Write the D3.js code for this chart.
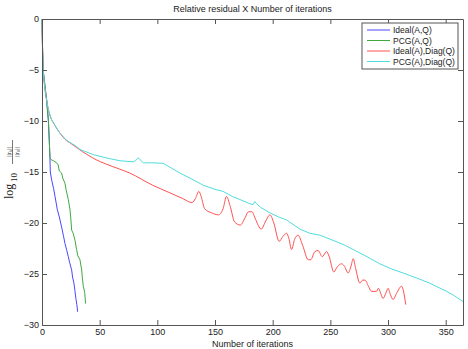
<!DOCTYPE html>
<html>
<head>
<meta charset="utf-8">
<script src="https://cdn.jsdelivr.net/npm/d3@7"></script>
<style>
body { margin: 0; background: #fff; }
svg { display: block; }
</style>
</head>
<body>
<div id="chart"></div>
<script>
var width = 468, height = 349;
var margin = {top: 19, right: 5, bottom: 24, left: 42};

var xTicks = [0, 50, 100, 150, 200, 250, 300, 350];
var yTicks = [0, -5, -10, -15, -20, -25, -30];
var seriesNames = ['Ideal(A,Q)', 'PCG(A,Q)', 'Ideal(A),Diag(Q)', 'PCG(A),Diag(Q)'];
var seriesColors = ['#4848ff', '#40a840', '#ff5050', '#50dcdc'];

// [iteration, log10 residual]
var idealAQ = [[0,0],[0.5,-3],[1,-5],[2,-6],[3,-7],[4,-7.9],[5,-9.3],[5.5,-9.9],[6.3,-11.9],[6.9,-13.6],
    [7.2,-15],[8.4,-15.8],[10,-16.6],[11.3,-17.4],[13.3,-18.7],[15,-19.4],[17,-20.4],[18.5,-21.2],
    [19.9,-22],[21.5,-22.7],[22.8,-23.3],[24,-23.9],[25.7,-24.6],[26.5,-25.3],[27.7,-25.9],
    [28.5,-26.6],[29.5,-27.5],[30.2,-28],[30.9,-28.7]];
var pcgAQ = [[0,0],[0.5,-3],[1,-5],[2,-6],[3,-7],[4,-7.9],[5,-9.3],[5.5,-9.9],[6.3,-11.9],[6.9,-13.6],
    [8,-13.8],[10,-13.9],[12.7,-14.1],[14,-14.3],[15,-14.9],[17,-15.1],[18,-15.6],[19.9,-16.1],
    [21,-16.8],[22.8,-17.7],[24.3,-18.7],[25,-19.6],[25.7,-20.7],[27,-21],[28.6,-21.7],[30,-22.6],
    [31,-23.2],[32.9,-23.6],[34.4,-24.6],[35,-25.4],[35.8,-26.2],[37,-26.8],[37.8,-27.9]];
var idealDiag = [[0,0],[0.5,-3],[1,-5],[2,-6.3],[3,-7.2],[5,-8.6],[7,-9.5],[10,-10.2],[15,-11.1],
    [20,-11.8],[25,-12.2],[30,-12.6],[35,-13],[40,-13.35],[47,-13.8],[55,-14.2],[67,-14.7],[76,-15.1],
    [96,-16.3],[110,-17],[122,-17.6],[130,-18],[133,-17.6],[136,-16.9],[138,-17.4],[141,-18.6],
    [147,-19],[153,-19.2],[157,-18.6],[160,-17.4],[163,-18.3],[167,-19.9],[172,-20.2],[176,-19.5],
    [179,-18.9],[182,-18.9],[185,-19.6],[190,-20.6],[194,-19.8],[197.6,-19.2],[201,-20],[205.6,-21.8],
    [209,-21.3],[212,-21],[214,-21.5],[216.4,-22.6],[219,-21.6],[222,-21.2],[226,-22.2],[230.8,-23.6],
    [233,-23.6],[236.6,-22.8],[239.4,-22.7],[243,-23.3],[246.7,-22.8],[249,-23.3],[253,-24.8],
    [256,-24.3],[259.7,-24],[262,-24.2],[265.5,-24.9],[268,-24.2],[269.8,-23.5],[272,-24.5],
    [275.6,-25.9],[278,-25.6],[280,-25.6],[283,-26.2],[285.7,-26.7],[290,-26.7],[291.5,-26.4],
    [295.8,-27.4],[298,-26.9],[300.1,-26.4],[302,-27],[304.4,-27.5],[307.4,-26.9],[311.7,-26.2],
    [315.4,-28]];
var pcgDiag = [[0,0],[0.5,-3],[1,-5],[2,-6.3],[3,-7.3],[5.5,-8.9],[8.4,-9.9],[10,-10.2],[15.6,-11.2],
    [21.4,-11.9],[30,-12.5],[33,-12.8],[44.5,-13.3],[59,-13.7],[67.6,-13.9],[79,-14],[81,-13.9],
    [83.5,-13.6],[85,-13.8],[87.8,-14.1],[95,-14.1],[105,-14.15],[112,-14.6],[119.6,-15.1],
    [130,-15.7],[139.8,-16.3],[150,-16.7],[157,-16.9],[165,-17.4],[171.6,-17.7],[180,-18.1],
    [183,-18.2],[184.5,-17.9],[186,-18.1],[190,-18.5],[197.6,-19],[205,-19.4],[212,-19.7],
    [223.6,-20.6],[232,-21],[241,-21.2],[252.4,-21.7],[263,-22.2],[269.8,-22.6],[280,-23.2],
    [292.9,-24],[303,-24.5],[313,-24.9],[325,-25.4],[336.2,-25.9],[350.7,-26.7],[357,-27.1],
    [365,-27.7]];

var series = [idealAQ, pcgAQ, idealDiag, pcgDiag];

var svg = d3.select('#chart').append('svg')
    .attr('width', width)
    .attr('height', height)
    .style('font-family', 'Liberation Sans, Arial, sans-serif');

var x = d3.scaleLinear().domain([0, 365]).range([margin.left, width - margin.right]);
var y = d3.scaleLinear().domain([-30, 0]).range([height - margin.bottom, margin.top]);

var axisColor = '#555';

var line = d3.line()
    .x(function (d) { return x(d[0]); })
    .y(function (d) { return y(d[1]); });

// plotted in order, so the cyan one ends on top like in matlab
var plot = svg.append('g');
series.forEach(function (s, i) {
    plot.append('path')
        .attr('d', line.curve(i == 2 ? d3.curveMonotoneX : d3.curveLinear)(s))
        .attr('fill', 'none')
        .attr('stroke', seriesColors[i])
        .attr('stroke-width', 1);
});

// axes, ticks pointing inward
var bottomAxis = d3.axisBottom(x).tickValues(xTicks).tickSizeInner(-5).tickSizeOuter(0).tickPadding(4);
var topAxis = d3.axisTop(x).tickValues(xTicks).tickSizeInner(-5).tickSizeOuter(0).tickFormat('');
var leftAxis = d3.axisLeft(y).tickValues(yTicks).tickSizeInner(-5).tickSizeOuter(0).tickPadding(3)
    .tickFormat(function (d) { return d == 0 ? '0' : '\u2212' + Math.abs(d); });
var rightAxis = d3.axisRight(y).tickValues(yTicks).tickSizeInner(-5).tickSizeOuter(0).tickFormat('');

svg.append('g').attr('transform', 'translate(0,' + y(-30) + ')').call(bottomAxis);
svg.append('g').attr('transform', 'translate(0,' + y(0) + ')').call(topAxis);
svg.append('g').attr('transform', 'translate(' + x(0) + ',0)').call(leftAxis);
svg.append('g').attr('transform', 'translate(' + x(365) + ',0)').call(rightAxis);

svg.selectAll('.domain').attr('stroke', axisColor);
svg.selectAll('.tick line').attr('stroke', axisColor);
svg.selectAll('.tick text').attr('fill', '#222').attr('font-size', 9)
    .attr('font-family', 'Liberation Sans, Arial, sans-serif');

// title + x label
svg.append('text')
    .attr('x', (x(0) + x(365)) / 2)
    .attr('y', 12)
    .attr('text-anchor', 'middle')
    .attr('font-size', 9)
    .attr('fill', '#222')
    .text('Relative residual X Number of iterations');

svg.append('text')
    .attr('x', (x(0) + x(365)) / 2)
    .attr('y', 347)
    .attr('text-anchor', 'middle')
    .attr('font-size', 9)
    .attr('fill', '#222')
    .text('Number of iterations');

// y label: log10 ||r_k|| / ||r_0||
var yl = svg.append('g')
    .attr('transform', 'translate(13,199) rotate(-90)')
    .attr('font-family', 'Liberation Serif, DejaVu Serif, serif')
    .attr('fill', '#222');
yl.append('text').attr('x', 0).attr('y', 0).attr('font-size', 12).text('log');
yl.append('text').attr('x', 17).attr('y', 4).attr('font-size', 9).text('10');
yl.append('line').attr('x1', 35).attr('x2', 59).attr('y1', -0.5).attr('y2', -0.5)
    .attr('stroke', '#555').attr('stroke-width', 0.8);
var num = yl.append('text').attr('x', 47).attr('y', -2.5).attr('font-size', 6.5).attr('text-anchor', 'middle');
num.append('tspan').text('||r');
num.append('tspan').attr('font-size', 4.5).attr('dy', 1.3).text('k');
num.append('tspan').attr('dy', -1.3).text('||');
var den = yl.append('text').attr('x', 47).attr('y', 6).attr('font-size', 6.5).attr('text-anchor', 'middle');
den.append('tspan').text('||r');
den.append('tspan').attr('font-size', 4.5).attr('dy', 1.3).text('0');
den.append('tspan').attr('dy', -1.3).text('||');

// legend
var lg = svg.append('g').attr('transform', 'translate(362,23)');
lg.append('rect')
    .attr('width', 96).attr('height', 46)
    .attr('fill', '#fff').attr('stroke', axisColor);
seriesNames.forEach(function (name, i) {
    var row = lg.append('g').attr('transform', 'translate(0,' + (7 + i * 10.5) + ')');
    row.append('line').attr('x1', 5).attr('x2', 28).attr('y1', 0).attr('y2', 0)
        .attr('stroke', seriesColors[i]).attr('stroke-width', 1);
    row.append('text').attr('x', 31).attr('y', 3.2)
        .attr('font-size', 8.5).attr('fill', '#222').text(name);
});
</script>
</body>
</html>
